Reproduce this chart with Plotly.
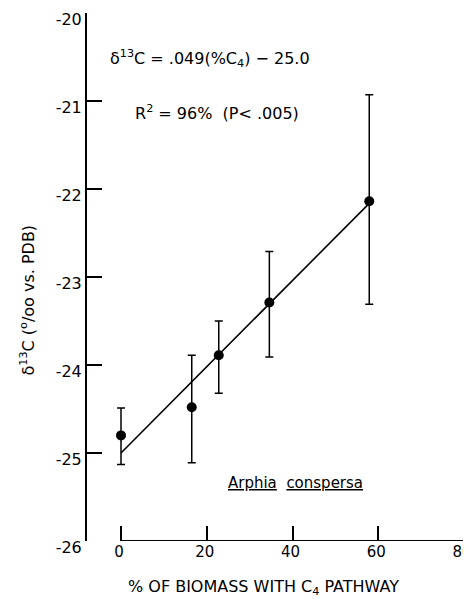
import plotly.graph_objects as go

# ---- data ----
pct_c4 = [0, 16.5, 22.8, 34.6, 57.9]
delta13c = [-24.80, -24.48, -23.89, -23.29, -22.14]
err_plus = [0.31, 0.59, 0.39, 0.58, 1.21]
err_minus = [0.33, 0.63, 0.43, 0.62, 1.17]

slope = 0.049
intercept = -25.0

x_ticks = [0, 20, 40, 60, 80]
x_ticklabels = ["0", "20", "40", "60", "80"]
y_ticks = [-20, -21, -22, -23, -24, -25, -26]
y_ticklabels = ["-20", "-21", "-22", "-23", "-24", "-25", "-26"]

FONT = "DejaVu Sans"

fit_x = [0, max(pct_c4)]
fit_y = [slope * v + intercept for v in fit_x]

fig = go.Figure()
fig.add_trace(go.Scatter(
    x=fit_x, y=fit_y, mode="lines",
    line=dict(color="black", width=1.6), showlegend=False, hoverinfo="skip"))
fig.add_trace(go.Scatter(
    x=pct_c4, y=delta13c, mode="markers",
    marker=dict(color="black", size=10),
    error_y=dict(type="data", symmetric=False, array=err_plus, arrayminus=err_minus,
                 color="black", thickness=1.5, width=4),
    showlegend=False))

# x axis line only spans the tick range (offset from the y axis)
fig.add_shape(type="line", xref="x", yref="y",
              x0=x_ticks[0], x1=x_ticks[-1], y0=min(y_ticks), y1=min(y_ticks),
              line=dict(color="black", width=2))

fig.update_layout(
    width=463, height=591,
    margin=dict(l=79, r=6, t=5, b=58, autoexpand=False),
    paper_bgcolor="white", plot_bgcolor="white",
    font=dict(family=FONT, size=15, color="black"),
    xaxis=dict(range=[-7.93, 80.23], tickvals=x_ticks, ticktext=x_ticklabels,
               ticks="inside", ticklen=15, tickwidth=2, tickcolor="black",
               showline=False, showgrid=False, zeroline=False,
               ticklabeloverflow="allow", automargin=False, ticklabelshift=-2,
               tickfont=dict(family=FONT, size=15, color="black")),
    yaxis=dict(range=[-26, -20], tickvals=y_ticks, ticktext=y_ticklabels,
               ticks="inside", ticklen=15, tickwidth=2, tickcolor="black",
               showline=True, linecolor="black", linewidth=2,
               showgrid=False, zeroline=False,
               ticklabeloverflow="allow", automargin=False, ticklabelshift=6,
               tickfont=dict(family=FONT, size=16, color="black")),
)

ann_font = dict(family=FONT, size=16, color="black")
fig.add_annotation(xref="paper", yref="paper", x=0.055, y=0.913,
                   xanchor="left", yanchor="middle", showarrow=False,
                   text="δ<sup>13</sup>C = .049(%C<sub>4</sub>) − 25.0", font=ann_font)
fig.add_annotation(xref="paper", yref="paper", x=0.122, y=0.811,
                   xanchor="left", yanchor="middle", showarrow=False,
                   text="R<sup>2</sup> = 96%  (P< .005)", font=ann_font)
fig.add_annotation(xref="paper", yref="paper", x=0.552, y=0.110,
                   xanchor="center", yanchor="middle", showarrow=False,
                   text="<u>Arphia</u>  <u>conspersa</u>",
                   font=dict(family=FONT, size=15, color="black"))
fig.add_annotation(xref="paper", yref="paper", x=0.466, y=-0.089,
                   xanchor="center", yanchor="middle", showarrow=False,
                   text="% OF BIOMASS WITH C<sub>4</sub> PATHWAY", font=ann_font)
fig.add_annotation(xref="paper", yref="paper", x=-0.158, y=0.456,
                   xanchor="center", yanchor="middle", showarrow=False, textangle=-90,
                   text="δ<sup>13</sup>C (<sup>o</sup>/oo vs. PDB)", font=ann_font)

fig.write_html("out.html")
